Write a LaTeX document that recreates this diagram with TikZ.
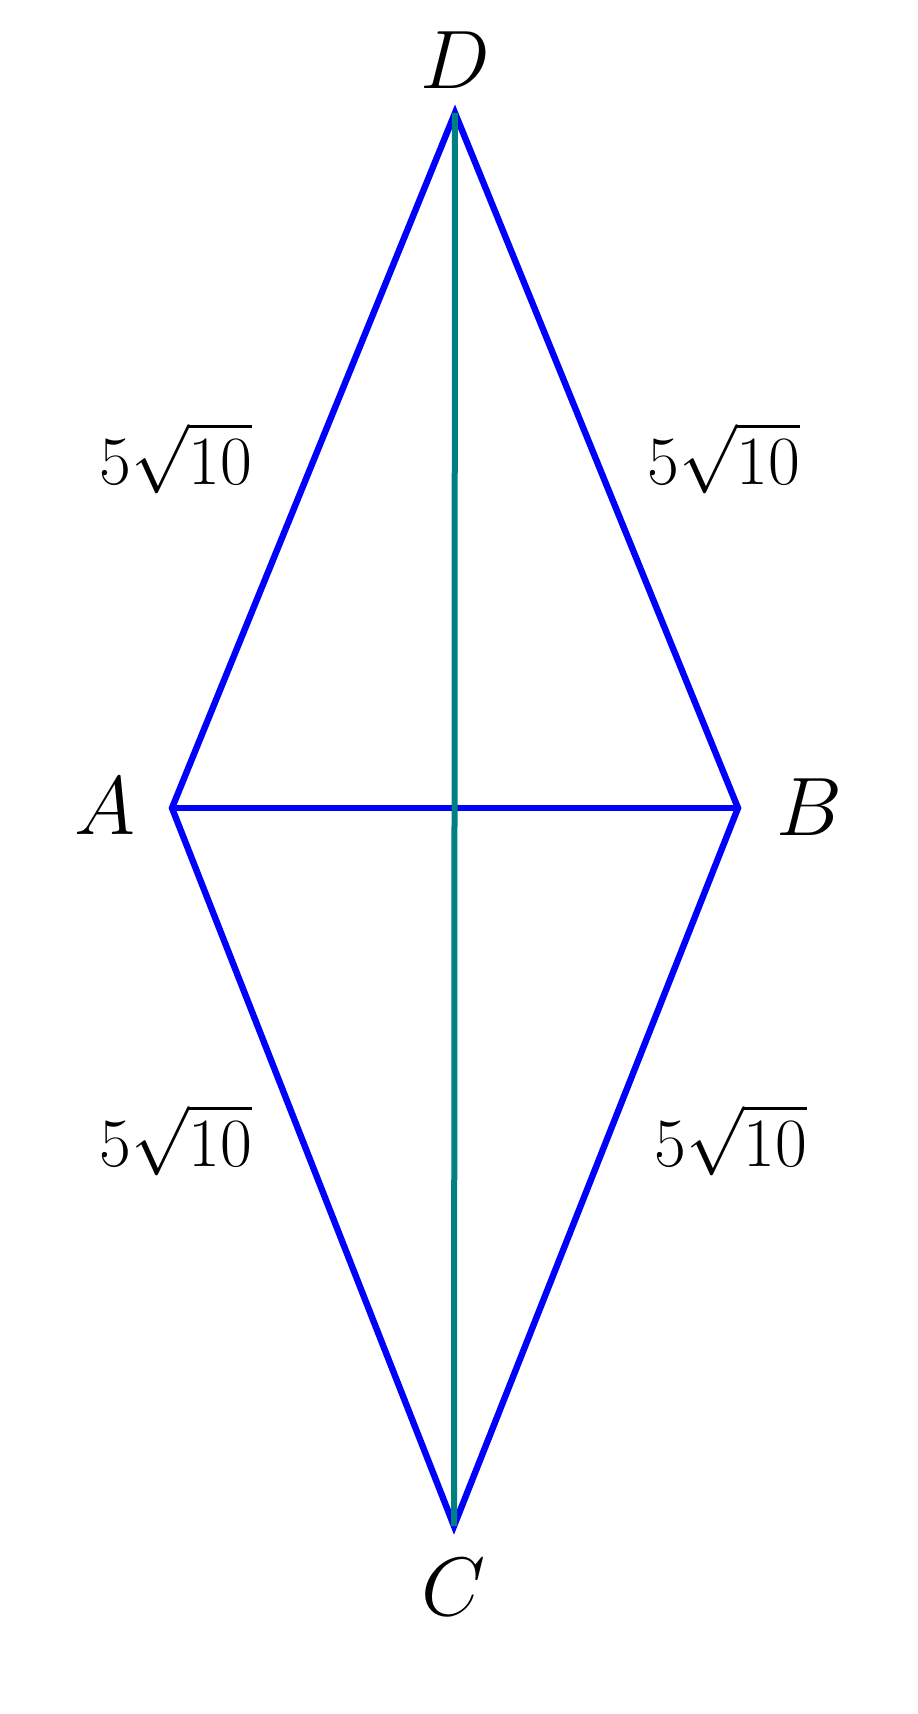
\documentclass[tikz,border=0pt]{standalone}
\begin{document}
\begin{tikzpicture}[x=0.25pt,y=-0.25pt,
  edge/.style={blue, line width=1.6pt, line join=miter},
  axisline/.style={teal, line width=1.5pt},
  vlabel/.style={font=\fontsize{19.5}{23}\selectfont, inner sep=0pt},
  slabel/.style={font=\fontsize{16.8}{20}\selectfont, inner sep=0pt}]
\fill[white] (0,0) rectangle (918,1714);
\useasboundingbox (0,0) rectangle (918,1714);
\coordinate (D) at (455,113);
\coordinate (A) at (172,808);
\coordinate (B) at (738,808);
\coordinate (C) at (454,1526);
\draw[edge] (A) -- (D) -- (B) -- (C) -- cycle;
\draw[edge] (A) -- (B);
\draw[axisline] (D) -- (C);
\node[vlabel] (lD) at (455,60) {$D$};
\node[vlabel] (lA) at (105,806) {$A$};
\node[vlabel] (lB) at (809,807) {$B$};
\node[vlabel] (lC) at (454,1587) {$C$};
\node[slabel] (sAD) at (176,458) {$5\sqrt{10}$};
\node[slabel] (sDB) at (724,458) {$5\sqrt{10}$};
\node[slabel] (sAC) at (176,1140) {$5\sqrt{10}$};
\node[slabel] (sBC) at (731,1140) {$5\sqrt{10}$};
\end{tikzpicture}
\end{document}
